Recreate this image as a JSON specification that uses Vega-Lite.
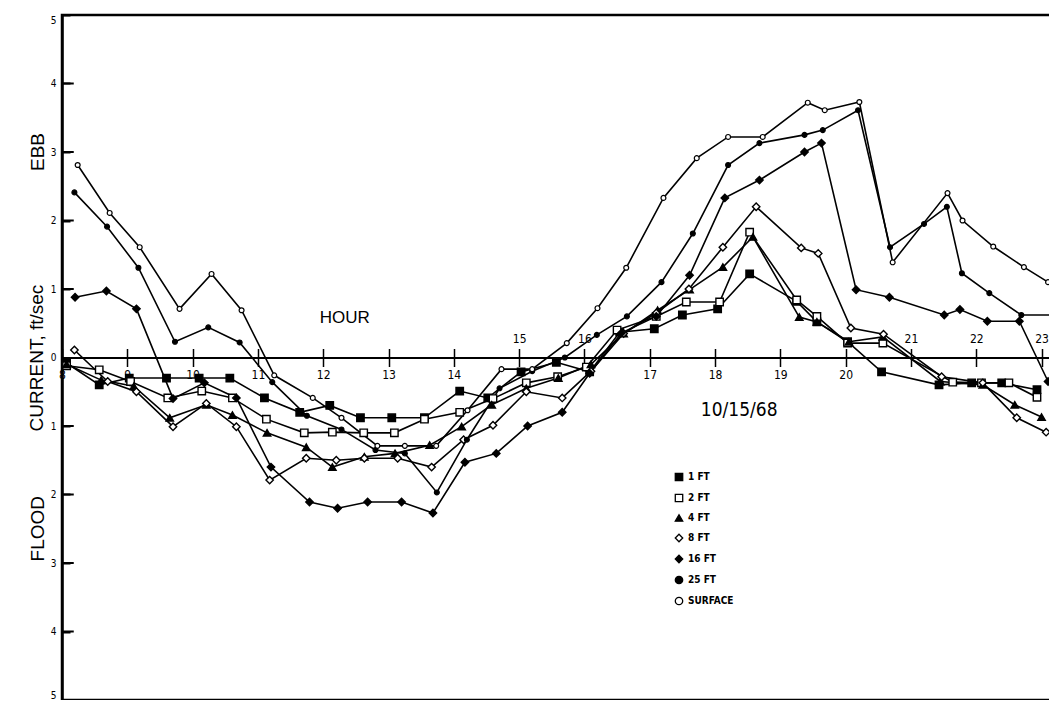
{
  "$schema": "https://vega.github.io/schema/vega-lite/v6.json",
  "width": 990,
  "height": 685,
  "autosize": {"type": "none"},
  "padding": {"left": 62, "top": 15, "right": 0, "bottom": 0},
  "background": "white",
  "config": {
    "view": {"stroke": "black", "strokeWidth": 2.5},
    "font": "DejaVu Sans Condensed"
  },
  "datasets": {
    "obs": [
      {"series": "1 FT", "hour": 8.07, "v": -0.08},
      {"series": "1 FT", "hour": 8.57, "v": -0.4},
      {"series": "1 FT", "hour": 9.03, "v": -0.3},
      {"series": "1 FT", "hour": 9.6, "v": -0.3},
      {"series": "1 FT", "hour": 10.1, "v": -0.3},
      {"series": "1 FT", "hour": 10.57, "v": -0.3},
      {"series": "1 FT", "hour": 11.1, "v": -0.59},
      {"series": "1 FT", "hour": 11.64, "v": -0.8},
      {"series": "1 FT", "hour": 12.1, "v": -0.7},
      {"series": "1 FT", "hour": 12.57, "v": -0.88},
      {"series": "1 FT", "hour": 13.05, "v": -0.88},
      {"series": "1 FT", "hour": 13.55, "v": -0.88},
      {"series": "1 FT", "hour": 14.09, "v": -0.49},
      {"series": "1 FT", "hour": 14.52, "v": -0.59},
      {"series": "1 FT", "hour": 15.03, "v": -0.21},
      {"series": "1 FT", "hour": 15.57, "v": -0.07},
      {"series": "1 FT", "hour": 16.08, "v": -0.21},
      {"series": "1 FT", "hour": 16.54, "v": 0.37},
      {"series": "1 FT", "hour": 17.07, "v": 0.42},
      {"series": "1 FT", "hour": 17.5, "v": 0.62},
      {"series": "1 FT", "hour": 18.04, "v": 0.71},
      {"series": "1 FT", "hour": 18.53, "v": 1.22},
      {"series": "1 FT", "hour": 19.25, "v": 0.82},
      {"series": "1 FT", "hour": 19.56, "v": 0.52},
      {"series": "1 FT", "hour": 20.03, "v": 0.23},
      {"series": "1 FT", "hour": 20.55, "v": -0.21},
      {"series": "1 FT", "hour": 21.43, "v": -0.4},
      {"series": "1 FT", "hour": 21.93, "v": -0.37},
      {"series": "1 FT", "hour": 22.39, "v": -0.37},
      {"series": "1 FT", "hour": 22.93, "v": -0.47},

      {"series": "2 FT", "hour": 8.07, "v": -0.12},
      {"series": "2 FT", "hour": 8.57, "v": -0.18},
      {"series": "2 FT", "hour": 9.05, "v": -0.35},
      {"series": "2 FT", "hour": 9.62, "v": -0.59},
      {"series": "2 FT", "hour": 10.14, "v": -0.49},
      {"series": "2 FT", "hour": 10.61, "v": -0.59},
      {"series": "2 FT", "hour": 11.13, "v": -0.9},
      {"series": "2 FT", "hour": 11.71, "v": -1.1},
      {"series": "2 FT", "hour": 12.14, "v": -1.09},
      {"series": "2 FT", "hour": 12.62, "v": -1.1},
      {"series": "2 FT", "hour": 13.09, "v": -1.1},
      {"series": "2 FT", "hour": 13.55, "v": -0.9},
      {"series": "2 FT", "hour": 14.09, "v": -0.8},
      {"series": "2 FT", "hour": 14.6, "v": -0.6},
      {"series": "2 FT", "hour": 15.11, "v": -0.37},
      {"series": "2 FT", "hour": 15.59, "v": -0.28},
      {"series": "2 FT", "hour": 16.03, "v": -0.14},
      {"series": "2 FT", "hour": 16.5, "v": 0.4},
      {"series": "2 FT", "hour": 17.1, "v": 0.6},
      {"series": "2 FT", "hour": 17.56, "v": 0.81},
      {"series": "2 FT", "hour": 18.07, "v": 0.81},
      {"series": "2 FT", "hour": 18.53, "v": 1.83},
      {"series": "2 FT", "hour": 19.25, "v": 0.84},
      {"series": "2 FT", "hour": 19.56, "v": 0.6},
      {"series": "2 FT", "hour": 20.03, "v": 0.21},
      {"series": "2 FT", "hour": 20.57, "v": 0.21},
      {"series": "2 FT", "hour": 21.64, "v": -0.36},
      {"series": "2 FT", "hour": 22.08, "v": -0.37},
      {"series": "2 FT", "hour": 22.5, "v": -0.37},
      {"series": "2 FT", "hour": 22.93, "v": -0.58},

      {"series": "4 FT", "hour": 8.07, "v": -0.1},
      {"series": "4 FT", "hour": 8.6, "v": -0.33},
      {"series": "4 FT", "hour": 9.1, "v": -0.42},
      {"series": "4 FT", "hour": 9.65, "v": -0.88},
      {"series": "4 FT", "hour": 10.21, "v": -0.69},
      {"series": "4 FT", "hour": 10.61, "v": -0.84},
      {"series": "4 FT", "hour": 11.14, "v": -1.1},
      {"series": "4 FT", "hour": 11.74, "v": -1.31},
      {"series": "4 FT", "hour": 12.14, "v": -1.6},
      {"series": "4 FT", "hour": 12.63, "v": -1.45},
      {"series": "4 FT", "hour": 13.1, "v": -1.4},
      {"series": "4 FT", "hour": 13.63, "v": -1.28},
      {"series": "4 FT", "hour": 14.12, "v": -1.01},
      {"series": "4 FT", "hour": 14.58, "v": -0.69},
      {"series": "4 FT", "hour": 15.11, "v": -0.45},
      {"series": "4 FT", "hour": 15.6, "v": -0.3},
      {"series": "4 FT", "hour": 16.1, "v": -0.1},
      {"series": "4 FT", "hour": 16.6, "v": 0.35},
      {"series": "4 FT", "hour": 17.12, "v": 0.69},
      {"series": "4 FT", "hour": 17.61, "v": 0.99},
      {"series": "4 FT", "hour": 18.12, "v": 1.32},
      {"series": "4 FT", "hour": 18.58, "v": 1.76},
      {"series": "4 FT", "hour": 19.29, "v": 0.59},
      {"series": "4 FT", "hour": 19.56, "v": 0.52},
      {"series": "4 FT", "hour": 20.05, "v": 0.23},
      {"series": "4 FT", "hour": 20.57, "v": 0.3},
      {"series": "4 FT", "hour": 21.45, "v": -0.35},
      {"series": "4 FT", "hour": 22.1, "v": -0.4},
      {"series": "4 FT", "hour": 22.59, "v": -0.69},
      {"series": "4 FT", "hour": 23.0, "v": -0.87},

      {"series": "8 FT", "hour": 8.19, "v": 0.11},
      {"series": "8 FT", "hour": 8.7, "v": -0.35},
      {"series": "8 FT", "hour": 9.14, "v": -0.5},
      {"series": "8 FT", "hour": 9.7, "v": -1.01},
      {"series": "8 FT", "hour": 10.21, "v": -0.67},
      {"series": "8 FT", "hour": 10.67, "v": -1.01},
      {"series": "8 FT", "hour": 11.18, "v": -1.79},
      {"series": "8 FT", "hour": 11.74, "v": -1.47},
      {"series": "8 FT", "hour": 12.2, "v": -1.5},
      {"series": "8 FT", "hour": 12.63, "v": -1.47},
      {"series": "8 FT", "hour": 13.14, "v": -1.47},
      {"series": "8 FT", "hour": 13.66, "v": -1.6},
      {"series": "8 FT", "hour": 14.15, "v": -1.2},
      {"series": "8 FT", "hour": 14.6, "v": -0.99},
      {"series": "8 FT", "hour": 15.11, "v": -0.5},
      {"series": "8 FT", "hour": 15.66, "v": -0.59},
      {"series": "8 FT", "hour": 16.1, "v": -0.2},
      {"series": "8 FT", "hour": 16.6, "v": 0.35},
      {"series": "8 FT", "hour": 17.1, "v": 0.65},
      {"series": "8 FT", "hour": 17.6, "v": 1.0},
      {"series": "8 FT", "hour": 18.12, "v": 1.61},
      {"series": "8 FT", "hour": 18.63, "v": 2.2},
      {"series": "8 FT", "hour": 19.32, "v": 1.6},
      {"series": "8 FT", "hour": 19.58, "v": 1.52},
      {"series": "8 FT", "hour": 20.08, "v": 0.43},
      {"series": "8 FT", "hour": 20.58, "v": 0.34},
      {"series": "8 FT", "hour": 21.47, "v": -0.28},
      {"series": "8 FT", "hour": 22.1, "v": -0.37},
      {"series": "8 FT", "hour": 22.62, "v": -0.88},
      {"series": "8 FT", "hour": 23.07, "v": -1.09},

      {"series": "16 FT", "hour": 8.2, "v": 0.88},
      {"series": "16 FT", "hour": 8.68, "v": 0.97},
      {"series": "16 FT", "hour": 9.14, "v": 0.71},
      {"series": "16 FT", "hour": 9.7, "v": -0.6},
      {"series": "16 FT", "hour": 10.18, "v": -0.37},
      {"series": "16 FT", "hour": 10.67, "v": -0.59},
      {"series": "16 FT", "hour": 11.2, "v": -1.6},
      {"series": "16 FT", "hour": 11.79, "v": -2.11},
      {"series": "16 FT", "hour": 12.22, "v": -2.2},
      {"series": "16 FT", "hour": 12.68, "v": -2.11},
      {"series": "16 FT", "hour": 13.2, "v": -2.11},
      {"series": "16 FT", "hour": 13.68, "v": -2.27},
      {"series": "16 FT", "hour": 14.17, "v": -1.53},
      {"series": "16 FT", "hour": 14.65, "v": -1.4},
      {"series": "16 FT", "hour": 15.13, "v": -1.0},
      {"series": "16 FT", "hour": 15.66, "v": -0.8},
      {"series": "16 FT", "hour": 16.08, "v": -0.23},
      {"series": "16 FT", "hour": 16.57, "v": 0.36},
      {"series": "16 FT", "hour": 17.1, "v": 0.6},
      {"series": "16 FT", "hour": 17.61, "v": 1.2},
      {"series": "16 FT", "hour": 18.15, "v": 2.33},
      {"series": "16 FT", "hour": 18.68, "v": 2.59},
      {"series": "16 FT", "hour": 19.37, "v": 3.0},
      {"series": "16 FT", "hour": 19.63, "v": 3.13},
      {"series": "16 FT", "hour": 20.16, "v": 0.99},
      {"series": "16 FT", "hour": 20.67, "v": 0.88},
      {"series": "16 FT", "hour": 21.51, "v": 0.62},
      {"series": "16 FT", "hour": 21.75, "v": 0.7},
      {"series": "16 FT", "hour": 22.17, "v": 0.53},
      {"series": "16 FT", "hour": 22.66, "v": 0.53},
      {"series": "16 FT", "hour": 23.1, "v": -0.35},

      {"series": "25 FT", "hour": 8.19, "v": 2.41},
      {"series": "25 FT", "hour": 8.69, "v": 1.91},
      {"series": "25 FT", "hour": 9.17, "v": 1.31},
      {"series": "25 FT", "hour": 9.73, "v": 0.23},
      {"series": "25 FT", "hour": 10.24, "v": 0.44},
      {"series": "25 FT", "hour": 10.72, "v": 0.22},
      {"series": "25 FT", "hour": 11.22, "v": -0.36},
      {"series": "25 FT", "hour": 11.75, "v": -0.85},
      {"series": "25 FT", "hour": 12.28, "v": -1.05},
      {"series": "25 FT", "hour": 12.8, "v": -1.35},
      {"series": "25 FT", "hour": 13.25, "v": -1.4},
      {"series": "25 FT", "hour": 13.74, "v": -1.97},
      {"series": "25 FT", "hour": 14.2, "v": -1.2},
      {"series": "25 FT", "hour": 14.7, "v": -0.45},
      {"series": "25 FT", "hour": 15.2, "v": -0.2},
      {"series": "25 FT", "hour": 15.7, "v": 0.0},
      {"series": "25 FT", "hour": 16.19, "v": 0.33},
      {"series": "25 FT", "hour": 16.65, "v": 0.6},
      {"series": "25 FT", "hour": 17.18, "v": 1.1},
      {"series": "25 FT", "hour": 17.66, "v": 1.81},
      {"series": "25 FT", "hour": 18.2, "v": 2.81},
      {"series": "25 FT", "hour": 18.68, "v": 3.13},
      {"series": "25 FT", "hour": 19.37, "v": 3.25},
      {"series": "25 FT", "hour": 19.65, "v": 3.32},
      {"series": "25 FT", "hour": 20.19, "v": 3.61},
      {"series": "25 FT", "hour": 20.68, "v": 1.61},
      {"series": "25 FT", "hour": 21.2, "v": 1.95},
      {"series": "25 FT", "hour": 21.55, "v": 2.2},
      {"series": "25 FT", "hour": 21.78, "v": 1.23},
      {"series": "25 FT", "hour": 22.2, "v": 0.94},
      {"series": "25 FT", "hour": 22.69, "v": 0.62},
      {"series": "25 FT", "hour": 23.2, "v": 0.62},

      {"series": "SURFACE", "hour": 8.24, "v": 2.81},
      {"series": "SURFACE", "hour": 8.73, "v": 2.11},
      {"series": "SURFACE", "hour": 9.19, "v": 1.61},
      {"series": "SURFACE", "hour": 9.8, "v": 0.71},
      {"series": "SURFACE", "hour": 10.29, "v": 1.22},
      {"series": "SURFACE", "hour": 10.75, "v": 0.69},
      {"series": "SURFACE", "hour": 11.25, "v": -0.26},
      {"series": "SURFACE", "hour": 11.84, "v": -0.59},
      {"series": "SURFACE", "hour": 12.28, "v": -0.88},
      {"series": "SURFACE", "hour": 12.83, "v": -1.29},
      {"series": "SURFACE", "hour": 13.25, "v": -1.29},
      {"series": "SURFACE", "hour": 13.73, "v": -1.29},
      {"series": "SURFACE", "hour": 14.21, "v": -0.77},
      {"series": "SURFACE", "hour": 14.73, "v": -0.17},
      {"series": "SURFACE", "hour": 15.2, "v": -0.17},
      {"series": "SURFACE", "hour": 15.73, "v": 0.21},
      {"series": "SURFACE", "hour": 16.2, "v": 0.72},
      {"series": "SURFACE", "hour": 16.64, "v": 1.31},
      {"series": "SURFACE", "hour": 17.21, "v": 2.33},
      {"series": "SURFACE", "hour": 17.72, "v": 2.91},
      {"series": "SURFACE", "hour": 18.2, "v": 3.22},
      {"series": "SURFACE", "hour": 18.73, "v": 3.22},
      {"series": "SURFACE", "hour": 19.42, "v": 3.72},
      {"series": "SURFACE", "hour": 19.68, "v": 3.61},
      {"series": "SURFACE", "hour": 20.21, "v": 3.73},
      {"series": "SURFACE", "hour": 20.72, "v": 1.39},
      {"series": "SURFACE", "hour": 21.56, "v": 2.4},
      {"series": "SURFACE", "hour": 21.79, "v": 2.0},
      {"series": "SURFACE", "hour": 22.26, "v": 1.62},
      {"series": "SURFACE", "hour": 22.73, "v": 1.32},
      {"series": "SURFACE", "hour": 23.1, "v": 1.1}
    ],
    "notes": [
      {"text": "HOUR", "hour": 12.33, "v": 0.58},
      {"text": "10/15/68", "hour": 18.37, "v": -0.77}
    ],
    "sides": [
      {"text": "EBB", "hour": 7.63, "v": 3.0},
      {"text": "FLOOD", "hour": 7.63, "v": -2.5}
    ],
    "yticks": [
      {"v": -4}, {"v": -3}, {"v": -2}, {"v": -1}, {"v": 1}, {"v": 2}, {"v": 3}, {"v": 4}
    ]
  },
  "resolve": {"axis": {"x": "independent", "y": "independent"}},
  "layer": [
    {
      "data": {"name": "obs"},
      "mark": {"type": "line", "color": "black", "strokeWidth": 1.6},
      "encoding": {
        "x": {
          "field": "hour", "type": "quantitative",
          "scale": {"domain": [8, 23.16], "nice": false, "zero": false},
          "axis": {
            "orient": "bottom", "offset": -342.5,
            "values": [8,9,10,11,12,13,14,15,16,17,18,19,20,21,22,23],
            "labelExpr": "indexof([15,16,21,22,23], datum.value) >= 0 ? '' : datum.label",
            "grid": false, "domainColor": "black", "domainWidth": 2,
            "tickColor": "black", "tickWidth": 1.5, "tickSize": 9,
            "labelFontSize": 12, "labelColor": "black", "labelPadding": 3,
            "labelFlush": false, "labelOverlap": false, "title": null
          }
        },
        "y": {
          "field": "v", "type": "quantitative",
          "scale": {"domain": [-5, 5], "nice": false},
          "axis": {
            "orient": "left",
            "values": [-5,-4,-3,-2,-1,0,1,2,3,4,5],
            "labelExpr": "abs(datum.value)",
            "grid": false, "domainColor": "black", "domainWidth": 2.5,
            "tickColor": "black", "tickWidth": 2, "tickSize": -8,
            "labelFontSize": 10, "labelColor": "black", "labelPadding": 14,
            "labelFlush": true, "labelOverlap": false,
            "title": "CURRENT, ft/sec", "titleFont": "Liberation Sans",
            "titleFontSize": 19, "titleFontWeight": "normal", "titleColor": "black",
            "titlePadding": 4
          }
        },
        "detail": {"field": "series"}
      }
    },
    {
      "data": {"name": "yticks"},
      "mark": {"type": "rule", "color": "black", "strokeWidth": 2},
      "encoding": {
        "x": {"datum": 8, "type": "quantitative", "axis": null},
        "x2": {"datum": 8.18},
        "y": {"field": "v", "type": "quantitative", "axis": null}
      }
    },
    {
      "data": {"name": "obs"},
      "transform": [{"filter": "datum.series != '25 FT' && datum.series != 'SURFACE'"}],
      "mark": {"type": "point", "stroke": "black", "strokeWidth": 1.4, "opacity": 1},
      "encoding": {
        "x": {
          "field": "hour", "type": "quantitative",
          "axis": {
            "orient": "top", "offset": -342.5,
            "values": [8,9,10,11,12,13,14,15,16,17,18,19,20,21,22,23],
            "labelExpr": "indexof([15,16,21,22,23], datum.value) >= 0 ? datum.label : ''",
            "grid": false, "domain": false,
            "tickColor": "black", "tickWidth": 1.5, "tickSize": 9,
            "labelFontSize": 12, "labelColor": "black", "labelPadding": 3,
            "labelFlush": false, "labelOverlap": false, "title": null
          }
        },
        "y": {"field": "v", "type": "quantitative", "axis": null},
        "shape": {
          "field": "series", "type": "nominal",
          "scale": {
            "domain": ["1 FT", "2 FT", "4 FT", "8 FT", "16 FT", "25 FT", "SURFACE"],
            "range": ["square", "square", "triangle-up", "diamond", "diamond", "circle", "circle"]
          },
          "legend": {
            "orient": "none", "legendX": 612, "legendY": 457,
            "title": null, "labelFontSize": 10, "labelFontWeight": "bold",
            "labelColor": "black", "rowPadding": 7, "symbolStrokeColor": "black",
            "symbolStrokeWidth": 1.3
          }
        },
        "fill": {
          "field": "series", "type": "nominal",
          "scale": {
            "domain": ["1 FT", "2 FT", "4 FT", "8 FT", "16 FT", "25 FT", "SURFACE"],
            "range": ["black", "white", "black", "white", "black", "black", "white"]
          }
        },
        "size": {
          "field": "series", "type": "nominal",
          "scale": {
            "domain": ["1 FT", "2 FT", "4 FT", "8 FT", "16 FT", "25 FT", "SURFACE"],
            "range": [55, 55, 50, 70, 70, 20, 24]
          }
        }
      }
    },
    {
      "data": {"name": "obs"},
      "transform": [{"filter": "datum.series == '25 FT' || datum.series == 'SURFACE'"}],
      "mark": {"type": "point", "shape": "circle", "stroke": "black", "strokeWidth": 1.2, "opacity": 1, "size": 24},
      "encoding": {
        "x": {"field": "hour", "type": "quantitative", "axis": null},
        "y": {"field": "v", "type": "quantitative", "axis": null},
        "fill": {"condition": {"test": "datum.series == '25 FT'", "value": "black"}, "value": "white"}
      }
    },
    {
      "data": {"name": "notes"},
      "transform": [{"filter": "datum.text == 'HOUR'"}],
      "mark": {"type": "text", "font": "Liberation Sans", "fontSize": 17, "color": "black", "align": "center", "baseline": "middle"},
      "encoding": {
        "x": {"field": "hour", "type": "quantitative", "axis": null},
        "y": {"field": "v", "type": "quantitative", "axis": null},
        "text": {"field": "text"}
      }
    },
    {
      "data": {"name": "notes"},
      "transform": [{"filter": "datum.text != 'HOUR'"}],
      "mark": {"type": "text", "font": "DejaVu Sans Condensed", "fontSize": 19, "color": "black", "align": "center", "baseline": "middle"},
      "encoding": {
        "x": {"field": "hour", "type": "quantitative", "axis": null},
        "y": {"field": "v", "type": "quantitative", "axis": null},
        "text": {"field": "text"}
      }
    },
    {
      "data": {"name": "sides"},
      "mark": {"type": "text", "font": "Liberation Sans", "fontSize": 19, "color": "black", "align": "center", "baseline": "middle", "angle": 270},
      "encoding": {
        "x": {"field": "hour", "type": "quantitative", "axis": null},
        "y": {"field": "v", "type": "quantitative", "axis": null},
        "text": {"field": "text"}
      }
    }
  ]
}
